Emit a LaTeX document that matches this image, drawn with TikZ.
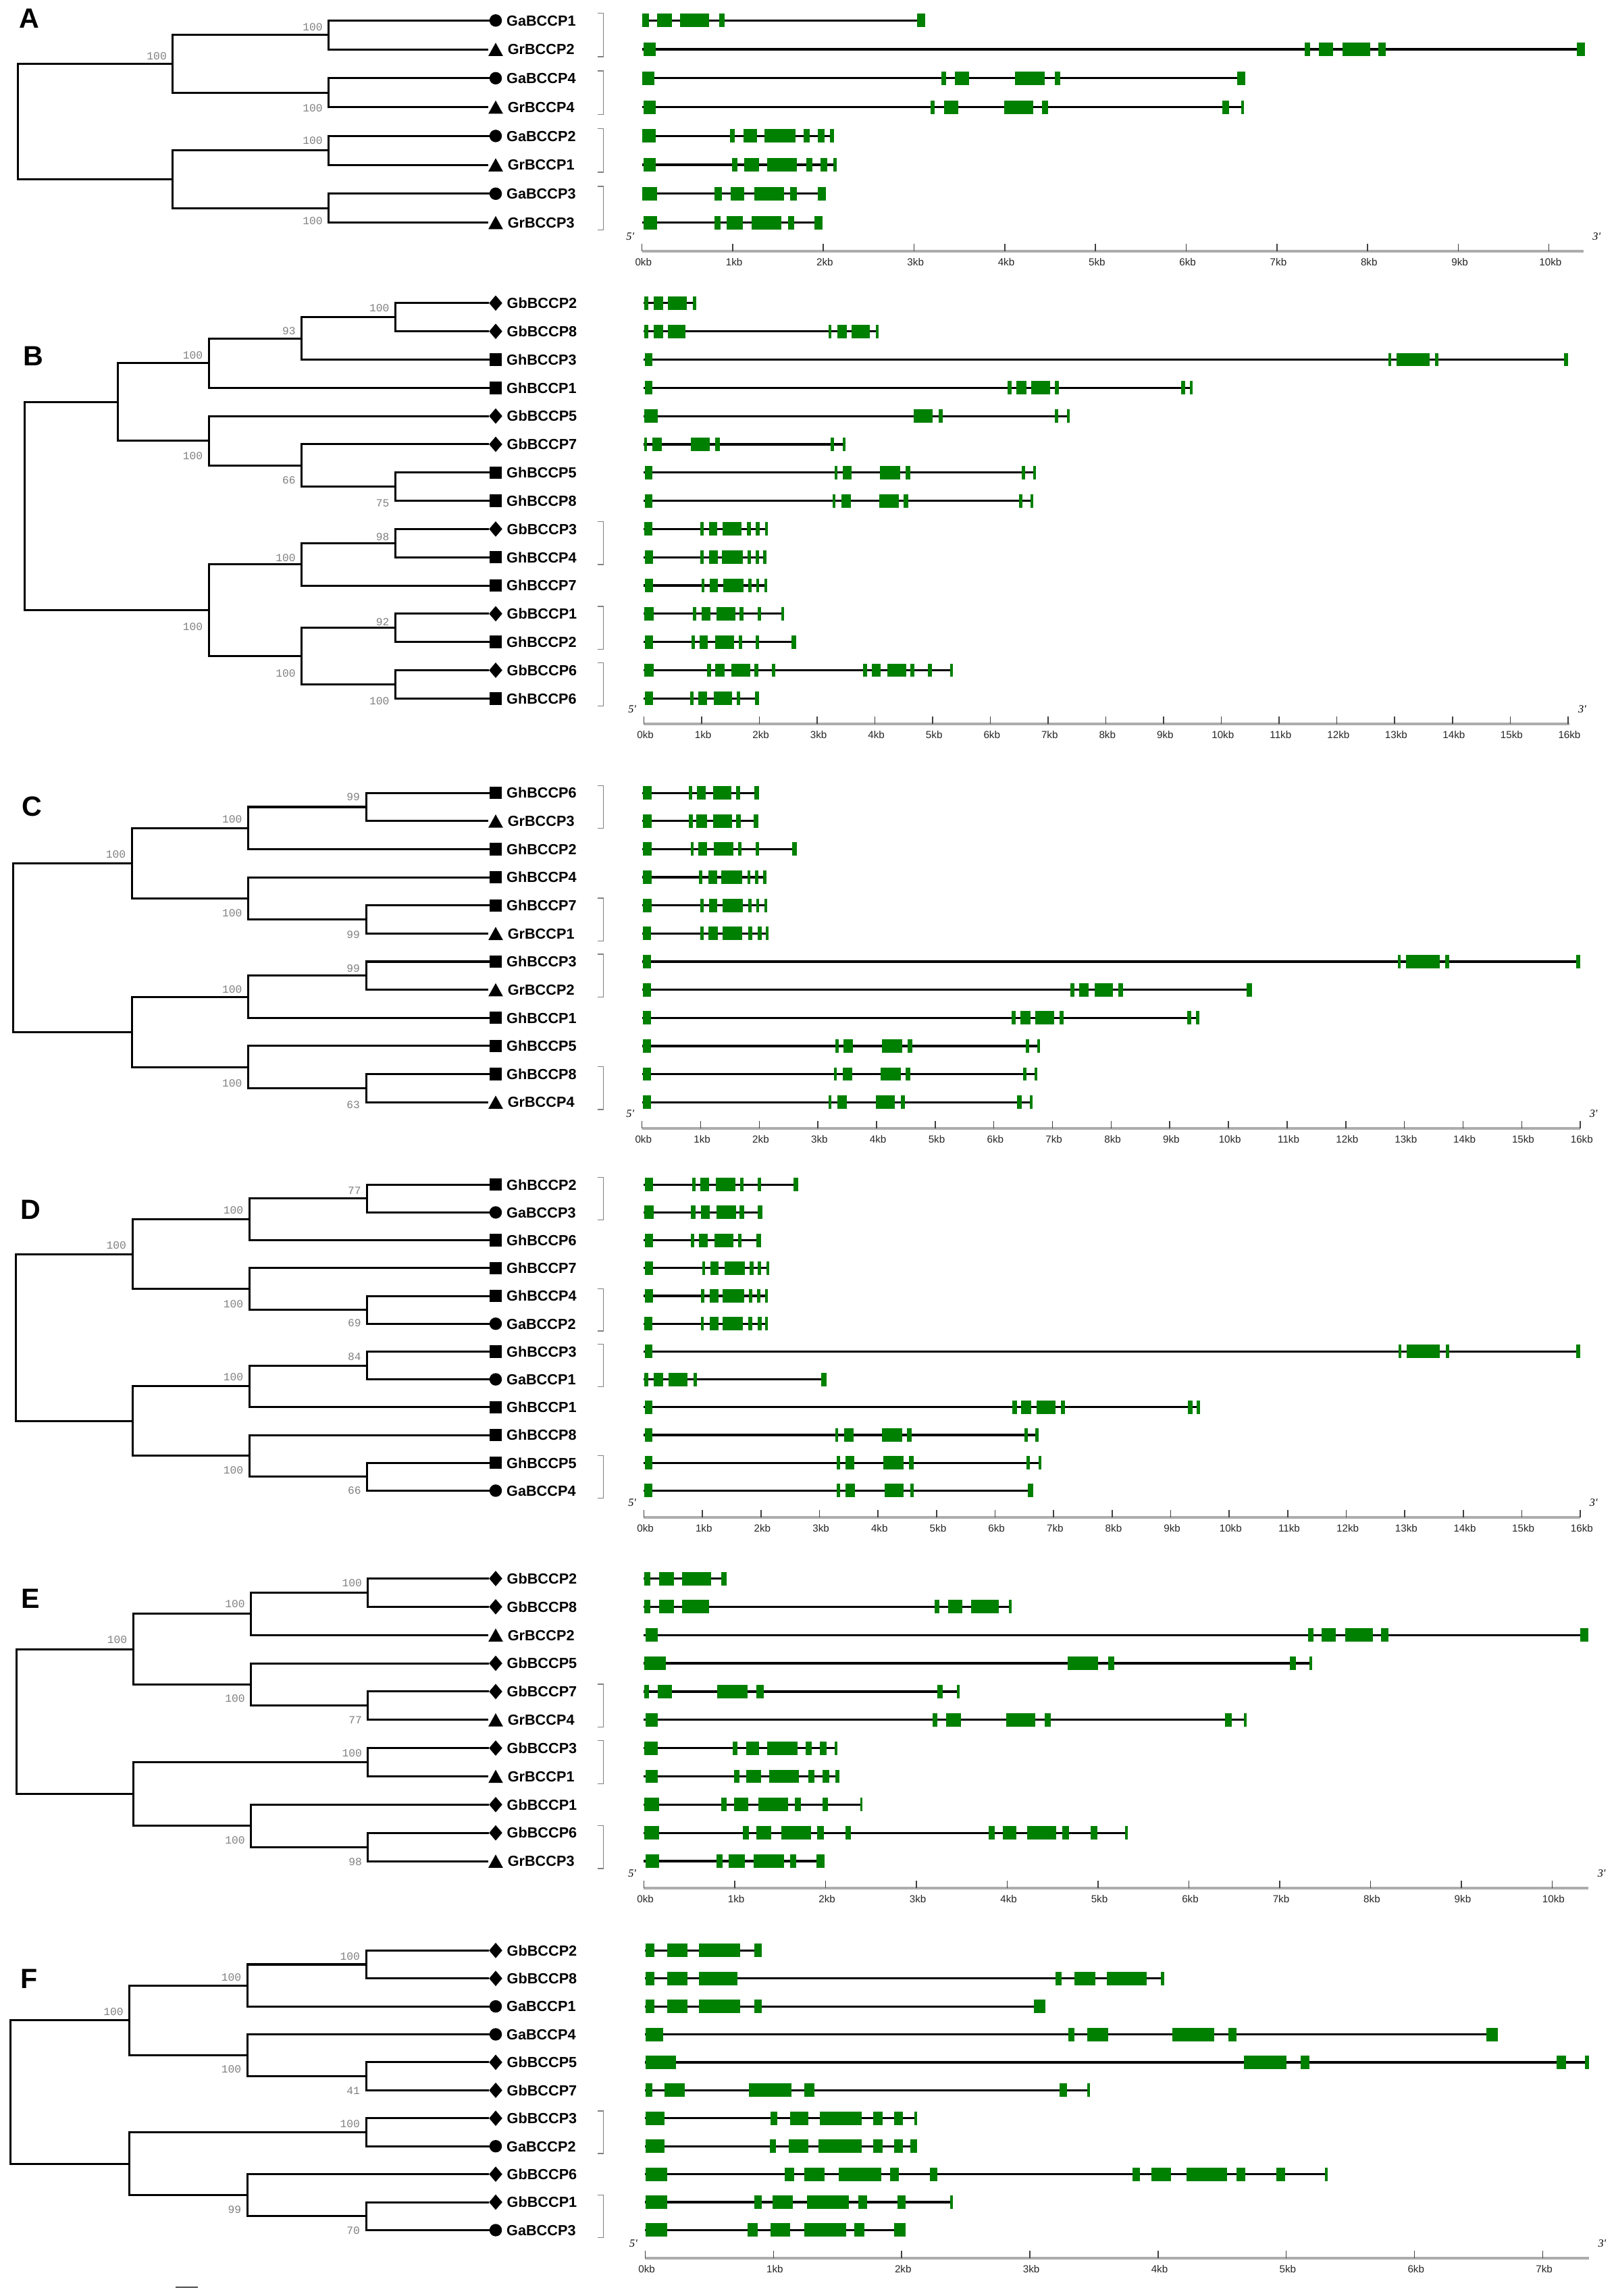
\documentclass[tikz,border=0pt]{standalone}
\usepackage{fontspec}
\setmainfont{Liberation Sans}
\newfontfamily\bootfont{Liberation Mono}
\newfontfamily\primefont{Liberation Serif}
\usetikzlibrary{shapes.geometric,positioning}

\definecolor{exon}{RGB}{0,128,0}

\tikzset{
  branch/.style={line width=1.4pt},
  intron/.style={line width=1.5pt},
  kbline/.style={line width=1.8pt, gray!65},
  kbtick/.style={line width=0.7pt, black!75},
  kblabel/.style={font=\fontsize{7}{7}\selectfont, inner sep=0pt, black!85},
  prime/.style={font=\fontsize{7.5}{7.5}\primefont\itshape, inner sep=0pt},
  boot/.style={font=\fontsize{7.5}{7.5}\bootfont, text=gray, anchor=east, inner sep=0pt},
  panel/.style={font=\fontsize{19}{19}\selectfont\bfseries, inner sep=0pt},
  gname/.style={font=\fontsize{10}{10}\selectfont\bfseries, inner sep=0pt, text height=7.2pt, text depth=0pt},
  pairmark/.style={line width=0.6pt, gray},
  sym/.style={inner sep=0pt, outer sep=0pt, fill=black},
  ga/.style={sym, circle, minimum size=8.5pt},
  gh/.style={sym, rectangle, minimum size=8.5pt},
  gb/.style={sym, diamond, minimum width=9pt, minimum height=10.5pt},
  gr/.style={inner sep=0pt, outer sep=0pt, minimum width=10pt, minimum height=9pt,
    path picture={\fill (path picture bounding box.south west) -- (path picture bounding box.south east) -- (path picture bounding box.north) -- cycle;}},
}

% gene = length in kb + exons start/end in kb
\newcommand\defgene[3]{%
  \expandafter\def\csname glen#1\endcsname{#2}%
  \expandafter\def\csname gex#1\endcsname{#3}}

\defgene{GaBCCP1}{3.12}{0.005/0.074,0.17/0.33,0.42/0.74,0.85/0.91,3.03/3.12}
\defgene{GaBCCP2}{2.12}{0.005/0.15,0.97/1.02,1.12/1.27,1.35/1.69,1.78/1.85,1.94/2.01,2.07/2.12}
\defgene{GaBCCP3}{2.03}{0.005/0.17,0.80/0.88,0.975/1.13,1.24/1.57,1.63/1.71,1.94/2.03}
\defgene{GaBCCP4}{6.65}{0.005/0.14,3.30/3.35,3.45/3.61,4.11/4.44,4.55/4.61,6.56/6.65}
\defgene{GrBCCP1}{2.15}{0.02/0.15,0.99/1.05,1.13/1.29,1.38/1.71,1.81/1.88,1.97/2.04,2.11/2.15}
\defgene{GrBCCP2}{10.40}{0.02/0.15,7.31/7.37,7.46/7.62,7.72/8.03,8.12/8.20,10.31/10.40}
\defgene{GrBCCP3}{1.99}{0.02/0.17,0.80/0.87,0.93/1.11,1.21/1.54,1.61/1.68,1.90/1.99}
\defgene{GrBCCP4}{6.64}{0.02/0.15,3.18/3.23,3.33/3.49,3.99/4.31,4.41/4.48,6.40/6.47,6.61/6.64}
\defgene{GbBCCP1}{2.40}{0.005/0.17,0.85/0.91,0.995/1.15,1.26/1.59,1.66/1.73,1.97/2.03,2.38/2.40}
\defgene{GbBCCP2}{0.91}{0.005/0.074,0.17/0.33,0.42/0.74,0.85/0.91}
\defgene{GbBCCP3}{2.12}{0.005/0.15,0.98/1.03,1.13/1.27,1.36/1.69,1.78/1.85,1.94/2.01,2.10/2.12}
\defgene{GbBCCP5}{7.36}{0.005/0.24,4.67/5.00,5.11/5.18,7.11/7.18,7.33/7.36}
\defgene{GbBCCP6}{5.32}{0.005/0.17,1.09/1.16,1.24/1.40,1.51/1.84,1.91/1.98,2.22/2.28,3.80/3.86,3.95/4.10,4.22/4.54,4.61/4.68,4.92/4.99,5.30/5.32}
\defgene{GbBCCP7}{3.47}{0.005/0.054,0.15/0.31,0.81/1.14,1.24/1.32,3.23/3.29,3.45/3.47}
\defgene{GbBCCP8}{4.05}{0.005/0.074,0.17/0.33,0.42/0.72,3.20/3.25,3.35/3.51,3.60/3.91,4.02/4.05}
\defgene{GhBCCP1}{9.50}{0.02/0.15,6.30/6.37,6.45/6.62,6.71/7.03,7.12/7.19,9.30/9.37,9.45/9.50}
\defgene{GhBCCP2}{2.64}{0.02/0.16,0.83/0.88,0.96/1.11,1.23/1.56,1.64/1.70,1.94/2.00,2.56/2.64}
\defgene{GhBCCP3}{16.0}{0.02/0.15,12.89/12.94,13.03/13.60,13.70/13.76,15.93/16.0}
\defgene{GhBCCP4}{2.12}{0.02/0.16,0.975/1.03,1.13/1.28,1.35/1.71,1.80/1.85,1.93/1.99,2.07/2.12}
\defgene{GhBCCP5}{6.78}{0.02/0.15,3.30/3.35,3.44/3.60,4.09/4.44,4.53/4.61,6.54/6.60,6.74/6.78}
\defgene{GhBCCP6}{2.00}{0.02/0.16,0.80/0.86,0.94/1.09,1.21/1.53,1.61/1.67,1.92/2.00}
\defgene{GhBCCP7}{2.14}{0.02/0.16,1.00/1.05,1.14/1.28,1.38/1.72,1.81/1.87,1.95/2.00,2.09/2.14}
\defgene{GhBCCP8}{6.74}{0.02/0.15,3.27/3.32,3.42/3.58,4.07/4.41,4.50/4.58,6.50/6.56,6.69/6.74}

% name, row y, x of 0kb, pt per kb
\newcommand\drawgene[4]{%
  \expandafter\let\expandafter\exlist\csname gex#1\endcsname
  \pgfmathsetmacro\gend{#3+\csname glen#1\endcsname*#4}
  \draw[intron] (#3,#2) -- (\gend,#2);
  \foreach \xs/\xe in \exlist {
    \pgfmathsetmacro\xa{#3+\xs*#4}
    \pgfmathsetmacro\xb{max(#3+\xe*#4,\xa+1.8)}
    \fill[exon] (\xa,#2-4.6) rectangle (\xb,#2+4.6);
  }}

% panel, first row y, row gap, x of 0kb, pt per kb, list gene/kind
\newcommand\genepanel[6]{%
  \foreach \g/\kind [count=\i] in {#6}{
    \pgfmathsetmacro\y{#2+(\i-1)*#3}
    \node[\kind] (#1s\i) at (338.5,\y) {};
    \node[gname, right=3pt of #1s\i] (#1g\i) {\g};
    \drawgene{\g}{\y}{#4}{#5}
  }}

% panel, axis y, x of 0kb, pt per kb, last tick, end (kb)
\newcommand\kbaxis[6]{%
  \draw[kbline] (#3,#2) -- ({#3+#6*#4},#2);
  \foreach \k in {0,...,#5}{
    \draw[kbtick] ({#3+\k*#4},#2) -- ++(0,-5);
    \node[kblabel] (#1kb\k) at ({#3+\k*#4+1},{#2+7.5}) {\k kb};
  }
  \node[prime] (#1five) at ({#3-8},{#2-10}) {5'};
  \node[prime] (#1three) at ({#3+#6*#4+9},{#2-10}) {3'};
}

% first row y, row gap, upper row, lower row
\newcommand\pairmark[4]{%
  \draw[pairmark] (408,{#1+(#3-1)*#2-5}) -- ++(4,0) -- (412,{#1+(#4-1)*#2+5}) -- ++(-4,0);}

% ((1,2),3),(4,(5,6)) | ((7,8),9),(10,(11,12))
\newcommand\treetwelve[1]{%
  \draw[branch] (#1R) |- (#1U) (#1R) |- (#1D)
    (#1U) |- (#1U1) (#1U) |- (#1U2)
    (#1U1) |- (#1p12) (#1U1) |- (#1s3) (#1p12) |- (#1s1) (#1p12) |- (#1s2)
    (#1U2) |- (#1s4) (#1U2) |- (#1p56) (#1p56) |- (#1s5) (#1p56) |- (#1s6)
    (#1D) |- (#1D1) (#1D) |- (#1D2)
    (#1D1) |- (#1p78) (#1D1) |- (#1s9) (#1p78) |- (#1s7) (#1p78) |- (#1s8)
    (#1D2) |- (#1s10) (#1D2) |- (#1p1112) (#1p1112) |- (#1s11) (#1p1112) |- (#1s12);}

% ((1,2),3),(4,(5,6)) | (7,8),(9,(10,11))
\newcommand\treeeleven[1]{%
  \draw[branch] (#1R) |- (#1U) (#1R) |- (#1D)
    (#1U) |- (#1U1) (#1U) |- (#1U2)
    (#1U1) |- (#1p12) (#1U1) |- (#1s3) (#1p12) |- (#1s1) (#1p12) |- (#1s2)
    (#1U2) |- (#1s4) (#1U2) |- (#1p56) (#1p56) |- (#1s5) (#1p56) |- (#1s6)
    (#1D) |- (#1p78) (#1D) |- (#1D2) (#1p78) |- (#1s7) (#1p78) |- (#1s8)
    (#1D2) |- (#1s9) (#1D2) |- (#1p1011) (#1p1011) |- (#1s10) (#1p1011) |- (#1s11);}

\begin{document}
\begin{tikzpicture}[x=1pt,y=-1pt]
\useasboundingbox (0,0) rectangle (1102,1568);

% ---------------- A ----------------
\node[panel] (pA) at (19.8,12.5) {A};
\genepanel{A}{14}{19.714}{438.4}{61.94}{GaBCCP1/ga,GrBCCP2/gr,GaBCCP4/ga,GrBCCP4/gr,GaBCCP2/ga,GrBCCP1/gr,GaBCCP3/ga,GrBCCP3/gr}
\coordinate (Ap12) at (224.5,23.86);
\coordinate (Ap34) at (224.5,63.29);
\coordinate (Ap56) at (224.5,102.71);
\coordinate (Ap78) at (224.5,142.14);
\coordinate (AU) at (118,43.57);
\coordinate (AD) at (118,122.43);
\coordinate (AR) at (12,83);
\draw[branch] (AR) |- (AU) (AR) |- (AD)
  (AU) |- (Ap12) (AU) |- (Ap34) (AD) |- (Ap56) (AD) |- (Ap78)
  (Ap12) |- (As1) (Ap12) |- (As2) (Ap34) |- (As3) (Ap34) |- (As4)
  (Ap56) |- (As5) (Ap56) |- (As6) (Ap78) |- (As7) (Ap78) |- (As8);
\foreach \x/\y/\v [count=\i] in {220.5/18.6/100,114/38.5/100,220.5/73.8/100,220.5/96/100,220.5/151/100}
  \node[boot] (Ab\i) at (\x,\y) {\v};
\foreach \t/\b in {1/2,3/4,5/6,7/8} \pairmark{14}{19.714}{\t}{\b};
\kbaxis{A}{171.6}{438.4}{61.94}{10}{10.38}

% ---------------- B ----------------
\node[panel] (pB) at (22.6,243) {B};
\genepanel{B}{207}{19.2857}{439.7}{39.44}{GbBCCP2/gb,GbBCCP8/gb,GhBCCP3/gh,GhBCCP1/gh,GbBCCP5/gb,GbBCCP7/gb,GhBCCP5/gh,GhBCCP8/gh,GbBCCP3/gb,GhBCCP4/gh,GhBCCP7/gh,GbBCCP1/gb,GhBCCP2/gh,GbBCCP6/gb,GhBCCP6/gh}
\coordinate (Bp12) at (270,216.64);
\coordinate (B123) at (206,231.11);
\coordinate (B1234) at (142.6,247.98);
\coordinate (Bp78) at (270,332.36);
\coordinate (B678) at (206,317.89);
\coordinate (B5678) at (142.6,301.02);
\coordinate (BU) at (80.5,274.5);
\coordinate (Bp910) at (270,370.93);
\coordinate (B91011) at (206,385.39);
\coordinate (Bp1213) at (270,428.79);
\coordinate (Bp1415) at (270,467.36);
\coordinate (BD2) at (206,448.07);
\coordinate (BD) at (142.6,416.73);
\coordinate (BR) at (17,345.6);
\draw[branch] (BR) |- (BU) (BR) |- (BD)
  (BU) |- (B1234) (BU) |- (B5678)
  (B1234) |- (B123) (B1234) |- (Bs4) (B123) |- (Bp12) (B123) |- (Bs3)
  (Bp12) |- (Bs1) (Bp12) |- (Bs2)
  (B5678) |- (Bs5) (B5678) |- (B678) (B678) |- (Bs6) (B678) |- (Bp78)
  (Bp78) |- (Bs7) (Bp78) |- (Bs8)
  (BD) |- (B91011) (BD) |- (BD2) (B91011) |- (Bp910) (B91011) |- (Bs11)
  (Bp910) |- (Bs9) (Bp910) |- (Bs10)
  (BD2) |- (Bp1213) (BD2) |- (Bp1415)
  (Bp1213) |- (Bs12) (Bp1213) |- (Bs13) (Bp1415) |- (Bs14) (Bp1415) |- (Bs15);
\foreach \x/\y/\v [count=\i] in {266/210.5/100,202/226/93,138.6/242.5/100,138.6/311.5/100,202/328/66,266/343.6/75,266/366.6/98,202/381/100,138.6/428/100,266/424.6/92,202/460/100,266/478.6/100}
  \node[boot] (Bb\i) at (\x,\y) {\v};
\foreach \t/\b in {9/10,12/13,14/15} \pairmark{207}{19.2857}{\t}{\b};
\kbaxis{B}{494.5}{439.7}{39.44}{16}{16.02}

% ---------------- C ----------------
\node[panel] (pC) at (22,550.8) {C};
\genepanel{C}{541.5}{19.2}{438.4}{40.05}{GhBCCP6/gh,GrBCCP3/gr,GhBCCP2/gh,GhBCCP4/gh,GhBCCP7/gh,GrBCCP1/gr,GhBCCP3/gh,GrBCCP2/gr,GhBCCP1/gh,GhBCCP5/gh,GhBCCP8/gh,GrBCCP4/gr}
\coordinate (Cp12) at (250,551.1);
\coordinate (CU1) at (169.5,565.5);
\coordinate (Cp56) at (250,627.9);
\coordinate (CU2) at (169.5,613.5);
\coordinate (CU) at (90,589.5);
\coordinate (Cp78) at (250,666.3);
\coordinate (CD1) at (169.5,680.7);
\coordinate (Cp1112) at (250,743.1);
\coordinate (CD2) at (169.5,728.7);
\coordinate (CD) at (90,704.7);
\coordinate (CR) at (9,647.1);
\treetwelve{C}
\foreach \x/\y/\v [count=\i] in {246/544.3/99,165.5/559.4/100,86/583.5/100,165.5/623.6/100,246/638.5/99,246/661.2/99,165.5/675.7/100,165.5/740/100,246/754.7/63}
  \node[boot] (Cb\i) at (\x,\y) {\v};
\foreach \t/\b in {1/2,5/6,7/8,11/12} \pairmark{541.5}{19.2}{\t}{\b};
\kbaxis{C}{770.7}{438.4}{40.05}{16}{16.0}

% ---------------- D ----------------
\node[panel] (pD) at (21,826.2) {D};
\genepanel{D}{809}{19}{439.7}{39.97}{GhBCCP2/gh,GaBCCP3/ga,GhBCCP6/gh,GhBCCP7/gh,GhBCCP4/gh,GaBCCP2/ga,GhBCCP3/gh,GaBCCP1/ga,GhBCCP1/gh,GhBCCP8/gh,GhBCCP5/gh,GaBCCP4/ga}
\coordinate (Dp12) at (250.8,818.5);
\coordinate (DU1) at (170.3,832.75);
\coordinate (Dp56) at (250.8,894.5);
\coordinate (DU2) at (170.3,880.25);
\coordinate (DU) at (90.4,856.5);
\coordinate (Dp78) at (250.8,932.5);
\coordinate (DD1) at (170.3,946.75);
\coordinate (Dp1112) at (250.8,1008.5);
\coordinate (DD2) at (170.3,994.25);
\coordinate (DD) at (90.4,970.5);
\coordinate (DR) at (10.7,913.5);
\treetwelve{D}
\foreach \x/\y/\v [count=\i] in {246.8/812.9/77,166.3/826.7/100,86.4/850.5/100,166.3/890.4/100,246.8/903.7/69,246.8/926.5/84,166.3/940.5/100,166.3/1004/100,246.8/1018/66}
  \node[boot] (Db\i) at (\x,\y) {\v};
\foreach \t/\b in {1/2,5/6,7/8,11/12} \pairmark{809}{19}{\t}{\b};
\kbaxis{D}{1036.3}{439.7}{39.97}{16}{16.0}

% ---------------- E ----------------
\node[panel] (pE) at (21,1091.6) {E};
\genepanel{E}{1078}{19.3}{439.7}{62.02}{GbBCCP2/gb,GbBCCP8/gb,GrBCCP2/gr,GbBCCP5/gb,GbBCCP7/gb,GrBCCP4/gr,GbBCCP3/gb,GrBCCP1/gr,GbBCCP1/gb,GbBCCP6/gb,GrBCCP3/gr}
\coordinate (Ep12) at (251.3,1087.65);
\coordinate (EU1) at (171.4,1102.13);
\coordinate (Ep56) at (251.3,1164.85);
\coordinate (EU2) at (171.4,1150.38);
\coordinate (EU) at (91,1126.25);
\coordinate (Ep78) at (251.3,1203.45);
\coordinate (Ep1011) at (251.3,1261.35);
\coordinate (ED2) at (171.4,1246.88);
\coordinate (ED) at (91,1225.16);
\coordinate (ER) at (11.3,1175.7);
\treeeleven{E}
\foreach \x/\y/\v [count=\i] in {247.3/1081.2/100,167.4/1095.5/100,87/1120/100,167.4/1159.7/100,247.3/1174.5/77,247.3/1197.3/100,167.4/1256.6/100,247.3/1271.3/98}
  \node[boot] (Eb\i) at (\x,\y) {\v};
\foreach \t/\b in {5/6,7/8,10/11} \pairmark{1078}{19.3}{\t}{\b};
\kbaxis{E}{1289.5}{439.7}{62.02}{10}{10.40}

% ---------------- F ----------------
\node[panel] (pF) at (20,1351.5) {F};
\genepanel{F}{1332}{19.1}{440.6}{87.56}{GbBCCP2/gb,GbBCCP8/gb,GaBCCP1/ga,GaBCCP4/ga,GbBCCP5/gb,GbBCCP7/gb,GbBCCP3/gb,GaBCCP2/ga,GbBCCP6/gb,GbBCCP1/gb,GaBCCP3/ga}
\coordinate (Fp12) at (250,1341.55);
\coordinate (FU1) at (168.9,1355.88);
\coordinate (Fp56) at (250,1417.95);
\coordinate (FU2) at (168.9,1403.63);
\coordinate (FU) at (88.4,1379.75);
\coordinate (Fp78) at (250,1456.15);
\coordinate (Fp1011) at (250,1513.45);
\coordinate (FD2) at (168.9,1499.13);
\coordinate (FD) at (88.4,1477.64);
\coordinate (FR) at (7,1428.7);
\treeeleven{F}
\foreach \x/\y/\v [count=\i] in {246/1336/100,164.9/1350.4/100,84.4/1374/100,164.9/1413.3/100,246/1428/41,246/1450.4/100,164.9/1509.2/99,246/1523.5/70}
  \node[boot] (Fb\i) at (\x,\y) {\v};
\foreach \t/\b in {7/8,10/11} \pairmark{1332}{19.1}{\t}{\b};
\kbaxis{F}{1542}{440.6}{87.56}{7}{7.36}

% scale bar
\draw[line width=1pt, black!70] (120,1562) -- (135,1562);
\end{tikzpicture}
\end{document}
